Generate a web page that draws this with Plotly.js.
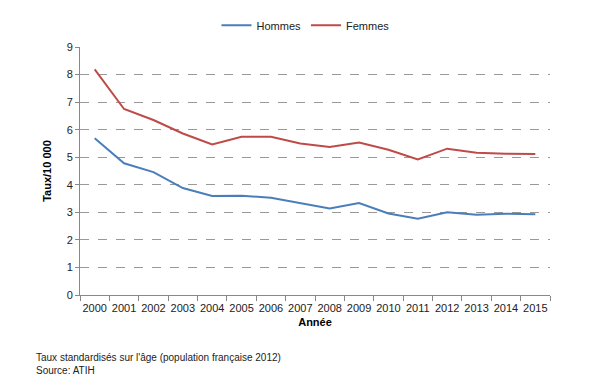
<!DOCTYPE html>
<html><head><meta charset="utf-8">
<script src="https://cdn.plot.ly/plotly-3.0.1.min.js"></script>
<style>html,body{margin:0;padding:0;background:#fff}#c{width:599px;height:390px}</style>
</head><body><div id="c"></div>
<script>
const years = ["2000","2001","2002","2003","2004","2005","2006","2007","2008","2009","2010","2011","2012","2013","2014","2015"];
const hommes = [5.69,4.78,4.46,3.88,3.59,3.60,3.53,3.33,3.14,3.34,2.96,2.77,3.00,2.91,2.95,2.93];
const femmes = [8.19,6.75,6.35,5.86,5.46,5.74,5.74,5.50,5.37,5.53,5.27,4.92,5.31,5.16,5.13,5.12];
const yTicks = [0,1,2,3,4,5,6,7,8,9];

const font = {family:"Liberation Sans, Arial, sans-serif", size:11, color:"#222"};
const data = [
  {x:years, y:hommes, name:"Hommes", type:"scatter", mode:"lines", line:{color:"#4a7ebb", width:2}},
  {x:years, y:femmes, name:"Femmes", type:"scatter", mode:"lines", line:{color:"#be4b48", width:2}}
];
const layout = {
  width:599, height:390,
  margin:{l:80, r:49, t:47, b:95, autoexpand:false},
  paper_bgcolor:"#fff", plot_bgcolor:"#fff",
  font:font,
  showlegend:true,
  legend:{orientation:"h", xref:"container", yref:"container", x:0.51, xanchor:"center", y:0.935, yanchor:"middle",
    font:{family:font.family, size:11, color:"#222"}, tracegroupgap:0},
  xaxis:{type:"category", range:[-0.5,15.5], tickson:"boundaries", ticks:"outside", ticklen:5, tickcolor:"#888", tickangle:0,
    ticklabelstandoff:3,
    showline:true, linecolor:"#888", linewidth:1, showgrid:false, zeroline:false,
    tickfont:{family:font.family, size:11, color:"#222"},
    title:{text:"<b>Année</b>", font:{family:font.family, size:11, color:"#000"}, standoff:5}},
  yaxis:{range:[0,9], tickvals:yTicks, ticktext:yTicks.map(String), ticks:"outside", ticklen:4, tickcolor:"#888",
    showline:true, linecolor:"#888", linewidth:1, zeroline:false,
    showgrid:true, gridcolor:"#999", griddash:"dash", gridwidth:1,
    tickfont:{family:font.family, size:11, color:"#222"},
    title:{text:"<b>Taux/10 000</b>", font:{family:font.family, size:11, color:"#000"}, standoff:12}},
  annotations:[
    {xref:"paper", yref:"paper", x:-0.097, y:-0.222, xanchor:"left", yanchor:"top", align:"left", showarrow:false,
     text:"Taux standardisés sur l'âge (population française 2012)<br>Source: ATIH",
     font:{family:font.family, size:10, color:"#222"}}
  ]
};
Plotly.newPlot("c", data, layout, {displayModeBar:false, staticPlot:true});
</script></body></html>
